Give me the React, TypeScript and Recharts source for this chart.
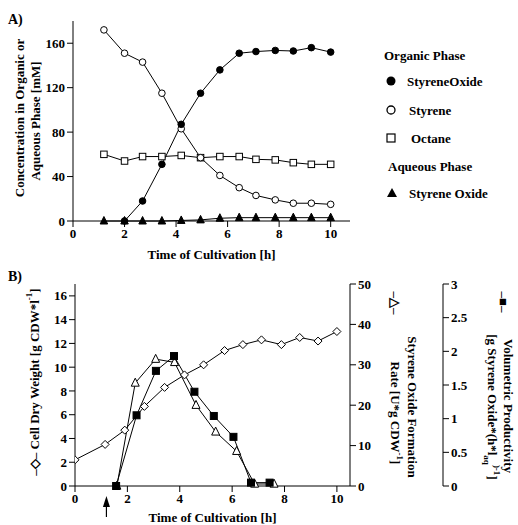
import React from "react";
import { LineChart, Line, XAxis, YAxis, ReferenceDot } from "recharts";

const SERIF = "'Liberation Serif', 'Times New Roman', serif";

// A) concentrations in organic / aqueous phase [mM]
const timeA = [1.2, 2.0, 2.7, 3.45, 4.2, 4.95, 5.7, 6.45, 7.1, 7.85, 8.55, 9.25, 10.0];
const styreneOxideOrg = [null, 0, 18, 51, 87, 115, 136, 151, 152.5, 153.5, 153, 156, 152];
const styreneOrg = [172, 151, 143, 115, 83, 57, 41, 30, 23, 19, 16, 16, 15];
const octaneOrg = [60, 54, 58, 58, 59, 57, 58, 58, 55.5, 55, 52.5, 51, 51];
const styreneOxideAq = [0, 0, 0, 0, 0.5, 1, 2.5, 3, 3, 3, 3, 3, 3];

// B) cell dry weight, formation rate, volumetric productivity
const timeCdw = [0, 1.15, 1.9, 2.65, 3.42, 4.18, 4.91, 5.71, 6.41, 7.12, 7.88, 8.58, 9.28, 10.0];
const cellDryWeight = [2.2, 3.5, 4.7, 6.7, 8.3, 9.35, 10.2, 11.4, 11.9, 12.3, 11.9, 12.5, 12.2, 13.0];
const timeRate = [1.6, 2.3, 3.08, 3.8, 4.62, 5.37, 6.17, 6.86, 7.6];
const formationRate = [0, 25.5, 31.4, 30.6, 20, 13.4, 8.6, 0.5, 0.5];
const timeProd = [1.57, 2.35, 3.09, 3.78, 4.56, 5.3, 6.05, 6.72, 7.43];
const productivity = [0, 1.05, 1.71, 1.93, 1.4, 1.04, 0.73, 0.05, 0.05];
const inductionTime = 1.2;

const ticksX = [0, 2, 4, 6, 8, 10];
const ticksA = [0, 40, 80, 120, 160];
const ticksCdw = [0, 2, 4, 6, 8, 10, 12, 14, 16];
const ticksRate = [0, 10, 20, 30, 40, 50];
const ticksProd = [0, 0.5, 1, 1.5, 2, 2.5, 3];

const rowsA = timeA.map((t, i) => ({
  t,
  so: styreneOxideOrg[i],
  st: styreneOrg[i],
  oc: octaneOrg[i],
  aq: styreneOxideAq[i],
}));
const rowsCdw = timeCdw.map((t, i) => ({ t, y: cellDryWeight[i] }));
const rowsRate = timeRate.map((t, i) => ({ t, y: formationRate[i] }));
const rowsProd = timeProd.map((t, i) => ({ t, y: productivity[i] }));

// panel B plot box inside its chart
const B_TOP = 22;
const B_MID = B_TOP + 101;

const tickStyle = { fill: "#000", fontSize: 13, fontWeight: "bold", fontFamily: SERIF };
const axisStroke = { stroke: "#000", strokeWidth: 1 };
const txt = { fill: "#000", fontSize: 13, fontWeight: "bold", fontFamily: SERIF } as const;

const ok = (p: any) => typeof p.cx === "number" && typeof p.cy === "number";

const square = (fill: string, s: number) => (p: any) =>
  ok(p) ? (
    <rect key={p.index} x={p.cx - s / 2} y={p.cy - s / 2} width={s} height={s} fill={fill} stroke="#000" strokeWidth={1} />
  ) : (
    <g key={p.index} />
  );

const triangle = (fill: string, s: number) => (p: any) =>
  ok(p) ? (
    <path
      key={p.index}
      d={`M${p.cx},${p.cy - s * 0.6}L${p.cx + s / 2},${p.cy + s * 0.4}L${p.cx - s / 2},${p.cy + s * 0.4}Z`}
      fill={fill}
      stroke="#000"
      strokeWidth={1}
    />
  ) : (
    <g key={p.index} />
  );

const diamond = (s: number) => (p: any) =>
  ok(p) ? (
    <path
      key={p.index}
      d={`M${p.cx},${p.cy - s / 2}L${p.cx + s / 2},${p.cy}L${p.cx},${p.cy + s / 2}L${p.cx - s / 2},${p.cy}Z`}
      fill="#fff"
      stroke="#000"
      strokeWidth={1}
    />
  ) : (
    <g key={p.index} />
  );

// rotated axis titles, one <text> per line
function rotated(x: number, y: number, angle: number, content: React.ReactNode, key: string) {
  return (
    <text key={key} transform={`translate(${x},${y}) rotate(${angle})`} textAnchor="middle" dominantBaseline="central" {...txt}>
      {content}
    </text>
  );
}

const titleA = (props: any) => {
  const { x = 0, y = 21, height = 200 } = props.viewBox || {};
  const cy = y + height / 2;
  return (
    <g>
      {rotated(x + 19, cy - 3, -90, "Concentration in Organic or", "l1")}
      {rotated(x + 35, cy, -90, "Aqueous Phase [mM]", "l2")}
    </g>
  );
};

const titleCdw = (props: any) => {
  const { x = 0 } = props.viewBox || {};
  return rotated(
    x + 34,
    B_MID - 3,
    -90,
    <>
      –◇– Cell Dry Weight [g CDW*l
      <tspan baselineShift="super" fontSize={9}>-1</tspan>]
    </>,
    "cdw"
  );
};

const titleRate = (props: any) => {
  const { x = 350 } = props.viewBox || {};
  return (
    <g>
      {rotated(x + 45, B_TOP + 19, 90, "–△–", "sym")}
      {rotated(x + 62, B_MID + 22, 90, "Styrene Oxide Formation", "r1")}
      {rotated(
        x + 45,
        B_MID + 28,
        90,
        <>
          Rate [U*g CDW
          <tspan baselineShift="super" fontSize={9}>-1</tspan>]
        </>,
        "r2"
      )}
    </g>
  );
};

const titleProd = (props: any) => {
  const { x = 443 } = props.viewBox || {};
  return (
    <g>
      {rotated(x + 60, B_TOP + 18, 90, "–■–", "sym")}
      {rotated(x + 65, B_MID + 21, 90, "Volumetric Productivity", "p1")}
      {rotated(
        x + 49,
        B_MID + 22,
        90,
        <>
          [g Styrene Oxide*(h*l
          <tspan baselineShift="sub" fontSize={9}>aq</tspan>
          <tspan baselineShift="super" fontSize={9}>)-1</tspan>]
        </>,
        "p2"
      )}
    </g>
  );
};

const arrow = (p: any) => (
  <g>
    <line x1={p.cx} y1={p.cy + 18} x2={p.cx} y2={p.cy + 31} stroke="#000" strokeWidth={1.2} />
    <path d={`M${p.cx},${p.cy + 10}L${p.cx + 3.5},${p.cy + 21}L${p.cx - 3.5},${p.cy + 21}Z`} fill="#000" />
  </g>
);

function LegendA() {
  const rows: { kind: string; label: string; y: number; x: number }[] = [
    { kind: "", label: "Organic Phase", y: 55, x: 384 },
    { kind: "filled", label: "StyreneOxide", y: 81, x: 407 },
    { kind: "open", label: "Styrene", y: 110, x: 409 },
    { kind: "square", label: "Octane", y: 138, x: 411 },
    { kind: "", label: "Aqueous Phase", y: 166, x: 388 },
    { kind: "tri", label: "Styrene Oxide", y: 193, x: 409 },
  ];
  return (
    <svg width={518} height={230} style={{ position: "absolute", left: 0, top: 0, pointerEvents: "none" }}>
      {rows.map((r) => (
        <g key={r.label + r.y}>
          {r.kind === "filled" && <circle cx={391} cy={r.y} r={4.5} fill="#000" />}
          {r.kind === "open" && <circle cx={391} cy={r.y} r={4} fill="#fff" stroke="#000" strokeWidth={1.3} />}
          {r.kind === "square" && <rect x={387} y={r.y - 4} width={8} height={8} fill="#fff" stroke="#000" strokeWidth={1.2} />}
          {r.kind === "tri" && <path d={`M392,${r.y - 5}L397,${r.y + 4}L387,${r.y + 4}Z`} fill="#000" />}
          <text x={r.x} y={r.y} dominantBaseline="central" {...txt}>
            {r.label}
          </text>
        </g>
      ))}
      <text x={8} y={19} dominantBaseline="central" {...txt} fontSize={14}>
        A)
      </text>
    </svg>
  );
}

export default function App() {
  return (
    <div style={{ position: "absolute", left: 0, top: 0, width: 518, height: 525, background: "#fff", fontFamily: SERIF }}>
      <div style={{ position: "absolute", left: 0, top: 0 }}>
        <LineChart width={518} height={262} data={rowsA} margin={{ top: 21, right: 168, left: 0, bottom: 0 }}>
          <XAxis
            dataKey="t"
            type="number"
            domain={[0, 10.75]}
            ticks={ticksX}
            allowDataOverflow
            height={41}
            tick={tickStyle}
            axisLine={axisStroke}
            tickLine={axisStroke}
            label={{ value: "Time of Cultivation [h]", position: "insideBottom", offset: 3, ...txt }}
          />
          <XAxis xAxisId="top" orientation="top" type="number" domain={[0, 10.75]} height={0} tick={false} tickLine={false} axisLine={axisStroke} />
          <YAxis
            domain={[0, 180]}
            ticks={ticksA}
            width={73}
            tick={tickStyle}
            axisLine={axisStroke}
            tickLine={axisStroke}
            label={{ content: titleA }}
          />
          <YAxis yAxisId="frame" orientation="right" domain={[0, 180]} width={0} tick={false} tickLine={false} axisLine={axisStroke} />
          <Line dataKey="oc" stroke="#000" strokeWidth={1} isAnimationActive={false} dot={square("#fff", 6.5)} />
          <Line dataKey="st" stroke="#000" strokeWidth={1} isAnimationActive={false} dot={{ r: 3.3, fill: "#fff", stroke: "#000", strokeWidth: 1 }} />
          <Line dataKey="so" stroke="#000" strokeWidth={1} isAnimationActive={false} dot={{ r: 3.3, fill: "#000", stroke: "#000", strokeWidth: 1 }} />
          <Line dataKey="aq" stroke="#000" strokeWidth={1} isAnimationActive={false} dot={triangle("#000", 7.5)} />
        </LineChart>
      </div>
      <LegendA />
      <svg width={40} height={20} style={{ position: "absolute", left: 0, top: 266 }}>
        <text x={8} y={10} dominantBaseline="central" {...txt} fontSize={14}>
          B)
        </text>
      </svg>
      <div style={{ position: "absolute", left: 0, top: 262 }}>
        <LineChart width={518} height={263} margin={{ top: B_TOP, right: 0, left: 0, bottom: 0 }}>
          <XAxis
            dataKey="t"
            type="number"
            domain={[0, 10.5]}
            ticks={ticksX}
            allowDataOverflow
            height={39}
            tick={tickStyle}
            axisLine={axisStroke}
            tickLine={axisStroke}
            label={{ value: "Time of Cultivation [h]", position: "insideBottom", offset: 3, ...txt }}
          />
          <XAxis xAxisId="top" orientation="top" type="number" domain={[0, 10.5]} height={0} tick={false} tickLine={false} axisLine={axisStroke} />
          <YAxis
            yAxisId="cdw"
            domain={[0, 17]}
            ticks={ticksCdw}
            width={75}
            tick={tickStyle}
            axisLine={axisStroke}
            tickLine={axisStroke}
            label={{ content: titleCdw }}
          />
          <YAxis
            yAxisId="b_prod"
            orientation="right"
            domain={[0, 3]}
            ticks={ticksProd}
            width={75}
            tick={tickStyle}
            axisLine={axisStroke}
            tickLine={axisStroke}
            label={{ content: titleProd }}
          />
          <YAxis
            yAxisId="a_rate"
            orientation="right"
            domain={[0, 50]}
            ticks={ticksRate}
            width={93}
            tick={tickStyle}
            axisLine={axisStroke}
            tickLine={axisStroke}
            label={{ content: titleRate }}
          />
          <Line data={rowsCdw} dataKey="y" yAxisId="cdw" stroke="#000" strokeWidth={1} isAnimationActive={false} dot={diamond(8)} />
          <Line data={rowsRate} dataKey="y" yAxisId="a_rate" stroke="#000" strokeWidth={1} isAnimationActive={false} dot={triangle("#fff", 8)} />
          <Line data={rowsProd} dataKey="y" yAxisId="b_prod" stroke="#000" strokeWidth={1} isAnimationActive={false} dot={square("#000", 7)} />
          <ReferenceDot x={inductionTime} y={0} yAxisId="cdw" ifOverflow="visible" shape={arrow} />
        </LineChart>
      </div>
    </div>
  );
}
